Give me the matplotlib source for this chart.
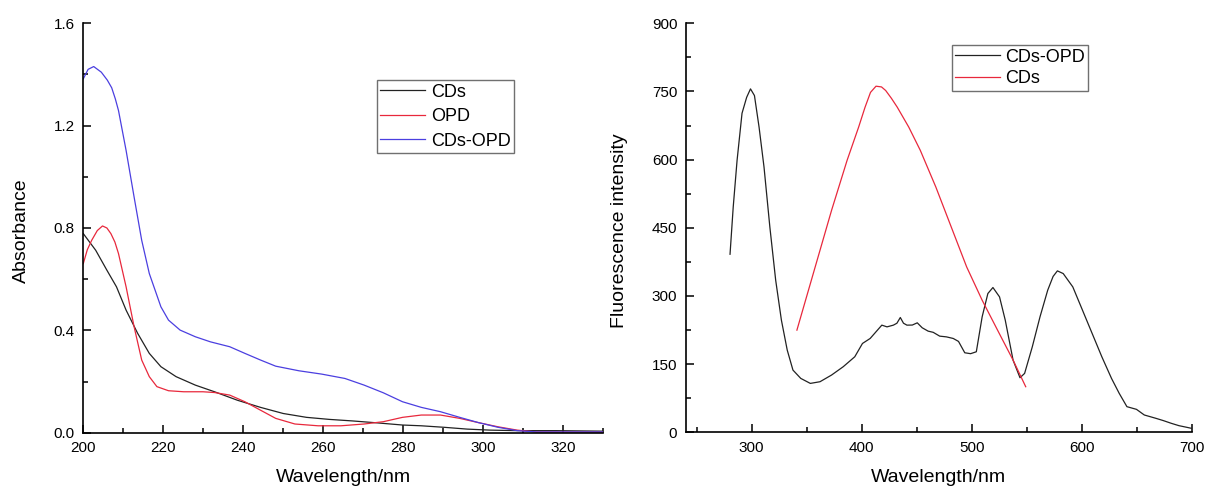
import matplotlib
matplotlib.use("Agg")
import numpy as np
import matplotlib.pyplot as plt
from matplotlib.ticker import MultipleLocator

plt.rcParams['font.family'] = ['Liberation Sans', 'DejaVu Sans']

############################
#  DATA
############################

# --- UV-vis absorbance ---
cds_x = [200, 203.1, 205.9, 208.3, 210.7, 213.6, 216.5, 219.4, 223.2, 228.0, 232.8,
         238.5, 244.3, 250.0, 255.8, 261.5, 267.3, 273.0, 279.8, 284.5, 290.3, 296.0,
         301.8, 308.5, 318.1, 330]
cds_y = [0.778, 0.713, 0.635, 0.570, 0.479, 0.388, 0.310, 0.258, 0.219, 0.186, 0.160,
         0.127, 0.099, 0.075, 0.060, 0.052, 0.046, 0.039, 0.030, 0.027, 0.021, 0.014,
         0.010, 0.008, 0.008, 0.006]

opd_x = [200, 201.0, 202.1, 203.5, 204.8, 205.9, 206.9, 207.9, 208.8, 210.7, 212.7,
         214.6, 216.5, 218.4, 221.3, 225.1, 229.9, 232.8, 236.6, 240.4, 244.3, 248.1,
         252.9, 258.7, 264.4, 270.2, 275.0, 279.8, 284.5, 289.3, 294.1, 298.9, 303.7,
         308.5, 313.3, 330]
opd_y = [0.661, 0.715, 0.752, 0.790, 0.808, 0.800, 0.778, 0.745, 0.700, 0.570, 0.414,
         0.284, 0.219, 0.180, 0.164, 0.160, 0.160, 0.157, 0.147, 0.121, 0.088, 0.056,
         0.034, 0.027, 0.027, 0.034, 0.043, 0.060, 0.069, 0.069, 0.056, 0.039, 0.023,
         0.010, 0.003, 0.002]

mix_x = [200, 201.2, 202.6, 204.5, 206.0, 207.1, 208.0, 208.8, 210.7, 212.7, 214.6,
         216.5, 219.4, 221.3, 224.2, 228.0, 231.8, 236.6, 240.4, 244.3, 248.1, 253.9,
         259.6, 265.4, 270.2, 275.0, 279.8, 284.5, 289.3, 294.1, 298.9, 303.7, 308.5,
         313.3, 330]
mix_y = [1.383, 1.420, 1.431, 1.409, 1.378, 1.348, 1.305, 1.259, 1.103, 0.921, 0.752,
         0.622, 0.492, 0.440, 0.401, 0.375, 0.355, 0.336, 0.310, 0.284, 0.260, 0.242,
         0.229, 0.212, 0.186, 0.156, 0.121, 0.099, 0.082, 0.060, 0.039, 0.021, 0.008,
         0.003, 0.003]

# --- Fluorescence ---
fl_mix_x = [280.3, 283.2, 286.7, 291.2, 295.4, 298.9, 302.5, 306.7, 311.2, 316.5, 321.8,
            327.0, 332.3, 337.5, 344.6, 353.3, 362.1, 372.6, 383.2, 393.7, 400.7, 407.7,
            418.3, 423.0, 428.8, 432.0, 435.1, 438.0, 441.1, 446.0, 450.5, 455.0, 460.4,
            465.0, 470.9, 477.0, 483.2, 488.0, 493.7, 499.0, 504.2, 509.5, 514.7, 519.3,
            525.3, 530.5, 537.6, 543.9, 548.1, 555.1, 562.1, 569.1, 574.0, 577.9, 583.2,
            591.9, 600.7, 609.5, 618.3, 627.1, 634.1, 641.1, 649.8, 656.9, 667.4, 674.4,
            681.4, 688.4, 695.5, 699.7]
fl_mix_y = [391.8, 495.8, 598.3, 702.0, 737.0, 755.7, 741.0, 671.5, 583.6, 451.8, 334.7,
            246.8, 180.9, 136.9, 118.6, 107.6, 111.3, 126.0, 144.3, 166.2, 195.5, 206.5,
            235.8, 232.0, 235.8, 240.0, 252.6, 240.0, 235.8, 236.0, 240.9, 230.0, 222.6,
            220.0, 211.6, 210.0, 206.5, 200.0, 175.0, 173.0, 177.2, 254.1, 305.4, 318.6,
            298.0, 246.8, 158.9, 120.1, 129.6, 188.2, 254.1, 312.7, 343.0, 355.2, 349.3,
            320.0, 268.8, 217.5, 166.2, 118.6, 85.7, 56.4, 50.5, 38.1, 30.8, 25.6,
            19.8, 14.6, 11.0, 8.8]

fl_cds_x = [341.1, 348.1, 358.6, 372.6, 386.7, 397.2, 403.0, 408.0, 413.0, 418.0, 421.8,
            427.0, 432.3, 442.8, 453.3, 467.4, 481.4, 495.4, 509.5, 523.5, 537.6, 549.1]
fl_cds_y = [224.8, 283.4, 371.3, 488.4, 598.3, 671.5, 715.0, 748.0, 761.6, 760.0, 752.1,
            735.0, 715.5, 671.5, 620.3, 539.7, 451.8, 364.0, 290.7, 224.8, 158.9, 100.3]

############################
# PLOT
############################

W, H = 1205, 488
fig = plt.figure(figsize=(W / 100, H / 100), dpi=100)


def rect(x0, x1, ytop, ybot):
    return [x0 / W, 1 - ybot / H, (x1 - x0) / W, (ybot - ytop) / H]


def style(ax):
    for s in ['top', 'right']:
        ax.spines[s].set_visible(False)
    for s in ['left', 'bottom']:
        ax.spines[s].set_linewidth(1.2)
    ax.tick_params(which='both', direction='in', width=1.1, labelsize=11, pad=6)
    ax.tick_params(which='major', length=6)
    ax.tick_params(which='minor', length=3.5)


black = '#222222'
red = '#e8283c'
blue = '#4b3fe0'
lw = 0.9

# left: absorbance
ax1 = fig.add_axes(rect(83.3, 603.3, 23.3, 432.7))
ax1.plot(cds_x, cds_y, color=black, lw=lw, label='CDs')
ax1.plot(opd_x, opd_y, color=red, lw=lw, label='OPD')
ax1.plot(mix_x, mix_y, color=blue, lw=lw, label='CDs-OPD')
ax1.set_xlim(200, 330)
ax1.set_ylim(0, 1.6)
ax1.xaxis.set_major_locator(MultipleLocator(20))
ax1.xaxis.set_minor_locator(MultipleLocator(10))
ax1.yaxis.set_major_locator(MultipleLocator(0.4))
ax1.yaxis.set_minor_locator(MultipleLocator(0.2))
ax1.yaxis.set_major_formatter(matplotlib.ticker.FormatStrFormatter('%.1f'))
style(ax1)

leg1 = ax1.legend(loc='upper left', bbox_to_anchor=(376.7 / W, 1 - 80 / H),
                  bbox_transform=fig.transFigure, borderaxespad=0, fontsize=13,
                  fancybox=False, framealpha=1, edgecolor='#707070',
                  handlelength=2.5, handletextpad=0.3, labelspacing=0.42,
                  borderpad=0.2)
leg1.get_frame().set_linewidth(1.0)

# right: fluorescence
ax2 = fig.add_axes(rect(685.7, 1191.7, 23.3, 432.3))
ax2.plot(fl_mix_x, fl_mix_y, color=black, lw=lw, label='CDs-OPD')
ax2.plot(fl_cds_x, fl_cds_y, color=red, lw=lw, label='CDs')
ax2.set_xlim(240, 700)
ax2.set_ylim(0, 900)
ax2.set_xticks([300, 400, 500, 600, 700])
ax2.xaxis.set_minor_locator(MultipleLocator(50))
ax2.yaxis.set_major_locator(MultipleLocator(150))
ax2.yaxis.set_minor_locator(MultipleLocator(75))
style(ax2)

leg2 = ax2.legend(loc='upper left', bbox_to_anchor=(951.7 / W, 1 - 45 / H),
                  bbox_transform=fig.transFigure, borderaxespad=0, fontsize=13,
                  fancybox=False, framealpha=1, edgecolor='#707070',
                  handlelength=2.45, handletextpad=0.3, labelspacing=0.25,
                  borderpad=0.2)
leg2.get_frame().set_linewidth(1.0)

# axis titles
fig.text(21 / W, 1 - 231 / H, 'Absorbance', rotation=90, ha='center', va='center', fontsize=14)
fig.text(620 / W, 1 - 231 / H, 'Fluorescence intensity', rotation=90, ha='center', va='center', fontsize=14)
fig.text(343 / W, 1 - 469 / H, 'Wavelength/nm', ha='center', va='top', fontsize=14)
fig.text(938 / W, 1 - 469 / H, 'Wavelength/nm', ha='center', va='top', fontsize=14)

fig.savefig('out.png', dpi=100)
